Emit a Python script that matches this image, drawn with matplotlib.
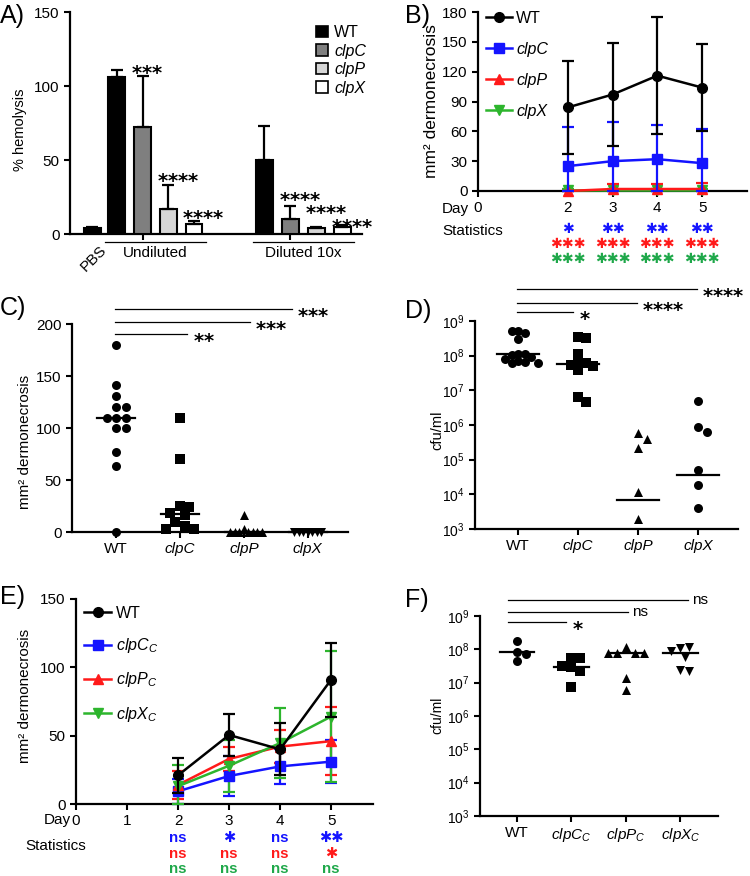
import numpy as np
import matplotlib
matplotlib.use('Agg')
import matplotlib.pyplot as plt
from matplotlib.patches import Patch
from matplotlib.lines import Line2D
import matplotlib.transforms as mtransforms

plt.rcParams['font.family'] = ['Liberation Sans', 'DejaVu Sans']
plt.rcParams['mathtext.fontset'] = 'custom'
plt.rcParams['mathtext.rm'] = 'Liberation Sans'
plt.rcParams['mathtext.it'] = 'Liberation Sans:italic'
plt.rcParams['mathtext.bf'] = 'Liberation Sans:bold'
plt.rcParams['mathtext.sf'] = 'DejaVu Sans:bold'

# ---------------- data ----------------
strains = ['WT', 'clpC', 'clpP', 'clpX']
strains_c = ['WT', r'$\mathit{clpC}_{\mathit{C}}$', r'$\mathit{clpP}_{\mathit{C}}$', r'$\mathit{clpX}_{\mathit{C}}$']

# A: % hemolysis
pbs_val, pbs_err = 4, 1
undiluted_vals = [106, 72, 17, 7]
undiluted_errs = [5, 35, 16, 2]
diluted_vals = [50, 10, 4, 5]
diluted_errs = [23, 9, 0.6, 0.8]
undiluted_stars = ['', '***', '****', '****']
diluted_stars = ['', '****', '****', '****']
undiluted_star_y = [0, 114, 41, 15.5]
diluted_star_y = [0, 28.0, 19.3, 9.6]

# B: dermonecrosis time course (mutants)
days = [2, 3, 4, 5]
B_WT_mean = [84, 97, 116, 104]
B_WT_err = [47, 52, 59, 44]
B_clpC_mean = [25, 30, 32, 28]
B_clpC_err = [39, 39, 34, 34]
B_clpP_mean = [0, 2, 2, 2]
B_clpP_err = [0, 5, 5, 6]
B_clpX_mean = [1, 1, 1, 1]
B_clpX_err = [1, 1, 1, 1]
B_stats_clpC = ['*', '**', '**', '**']
B_stats_clpP = ['***', '***', '***', '***']
B_stats_clpX = ['***', '***', '***', '***']

# C: dermonecrosis day 5 scatter
C_WT = [180, 141, 131, 120, 120, 110, 110, 110, 100, 100, 77, 63, 0]
C_clpC = [110, 70, 25, 24, 18, 16, 10, 6, 3, 3]
C_clpP = [16, 3, 0, 0, 0, 0, 0, 0, 0]
C_clpX = [0, 0, 0, 0, 0, 0, 0]
C_median = [110, 17, 0, 0]
C_sig_ends = [3.75, 3.09, 2.11]
C_sig_labels = ['***', '***', '**']

# D: cfu/ml mutants
D_WT = [5e8, 4.6e8, 3.1e8, 5e8, 1.15e8, 1.1e8, 1.05e8, 9e7, 8e7, 7e7, 6.5e7, 6e7, 6.2e7]
D_clpC = [3.5e8, 3.2e8, 1.1e8, 6.5e7, 6e7, 5.5e7, 5e7, 3.8e7, 6.3e6, 4.5e6]
D_clpP = [5.7e5, 3.9e5, 2.2e5, 1.15e4, 2e3]
D_clpX = [5e6, 8.5e5, 6.3e5, 5.2e4, 1.9e4, 4e3]
D_median = [1.1e8, 5.6e7, 6.9e3, 3.6e4]
D_sig_ends = [3.98, 2.98, 1.92]
D_sig_labels = ['****', '****', '*']

# E: dermonecrosis time course (complemented)
E_WT_mean = [21, 50.5, 40, 91]
E_WT_err = [13, 15.5, 19, 27]
E_clpC_mean = [9.3, 20.5, 27.5, 31]
E_clpC_err = [9.3, 14.5, 13, 15.5]
E_clpP_mean = [14, 33, 42, 46]
E_clpP_err = [10, 9, 12, 25]
E_clpX_mean = [13, 28, 44.6, 64]
E_clpX_err = [15.5, 19, 25.4, 48]
E_stats_clpC = ['ns', '*', 'ns', '**']
E_stats_clpP = ['ns', 'ns', 'ns', '*']
E_stats_clpX = ['ns', 'ns', 'ns', 'ns']

# F: cfu/ml complemented
F_WT = [1.8e8, 8.5e7, 7.2e7, 4.5e7]
F_clpC = [5.6e7, 5.6e7, 3e7, 3.2e7, 2.3e7, 7.2e6]
F_clpP = [1.15e8, 8e7, 7.8e7, 7.6e7, 7.5e7, 1.4e7, 6e6]
F_clpX = [1.1e8, 1.15e8, 9e7, 6e7, 2.4e7, 2.2e7]
F_median = [8.5e7, 2.9e7, 7.8e7, 7.8e7]
F_sig_ends = [4.14, 3.04, 1.9]
F_sig_labels = ['ns', 'ns', '*']

# ---------------- style ----------------
BLUE = '#1414ff'
RED = '#ff1a1a'
GREEN = '#2db52d'
GREEN_T = '#1fa84a'
line_colors = ['black', BLUE, RED, GREEN]
stat_colors = [BLUE, RED, GREEN_T]
markers = ['o', 's', '^', 'v']
bar_colors = ['black', '#7f7f7f', '#d6d6d6', 'white']

W, H = 750, 876
fig = plt.figure(figsize=(W / 100, H / 100), dpi=100)


def rect(l, t, r, b):
    return [l / W, 1 - b / H, (r - l) / W, (b - t) / H]


def style(ax, fs=11):
    for s in ['top', 'right']:
        ax.spines[s].set_visible(False)
    for s in ['left', 'bottom']:
        ax.spines[s].set_linewidth(1.6)
    ax.tick_params(width=1.5, length=4, labelsize=fs, direction='out')
    ax.minorticks_off()


def ftext(px, py, s, **kw):
    fig.text(px / W, 1 - py / H, s, **kw)


def stars(s):
    # bold asterisks rendered as math text (DejaVu Sans Bold)
    return r'$\mathsf{' + '{*}' * len(s) + '}$'


def heavy(s):
    # heavy asterisk glyphs for the stacked statistics rows
    return s.replace('*', '\u2731')


def swarm_x(ax, xc, vals, d):
    disp = ax.transData.transform(np.column_stack([np.full(len(vals), float(xc)), np.asarray(vals, float)]))
    x0 = disp[0, 0]
    placed = []
    cands = [0.0]
    for k in range(1, 20):
        cands += [k * d / 2, -k * d / 2]
    for y in disp[:, 1]:
        for c in cands:
            if all((x0 + c - px) ** 2 + (y - py) ** 2 >= (0.999 * d) ** 2 for px, py in placed):
                break
        placed.append((x0 + c, y))
    return ax.transData.inverted().transform(np.array(placed))[:, 0]


def sig_lines(ax, ends, ylevels, labels, x0, fs=14):
    tr = mtransforms.blended_transform_factory(ax.transData, ax.transAxes)
    for xe, yf, lab in zip(ends, ylevels, labels):
        ax.plot([x0, xe], [yf, yf], transform=tr, color='black', lw=0.9, clip_on=False)
        if lab == 'ns':
            off = mtransforms.offset_copy(tr, fig=fig, x=3, y=-0.27 * 11, units='points')
            ax.text(xe, yf, lab, transform=off, ha='left', va='baseline', fontsize=11)
        else:
            off = mtransforms.offset_copy(tr, fig=fig, x=4, y=-0.58 * fs, units='points')
            ax.text(xe, yf, stars(lab), transform=off, ha='left', va='baseline', fontsize=fs)


# ================= Panel A =================
axA = fig.add_axes(rect(70, 12, 362, 234))
style(axA)
axA.set_xlim(0, 11.23)
axA.set_ylim(0, 150)
axA.set_yticks([0, 50, 100, 150])
pos_pbs = 0.85
pos_und = 1.8 + np.arange(4) * 0.99
pos_dil = 7.47 + np.arange(4) * 1.0
bw = 0.65
kw = dict(width=bw, edgecolor='black', linewidth=1.5, zorder=3,
          error_kw=dict(elinewidth=1.6, capthick=1.6, ecolor='black'), capsize=4)
axA.bar([pos_pbs], [pbs_val], yerr=[[0], [pbs_err]], color='black', **kw)
axA.bar(pos_und, undiluted_vals, yerr=[np.zeros(4), undiluted_errs], color=bar_colors, **kw)
axA.bar(pos_dil, diluted_vals, yerr=[np.zeros(4), diluted_errs], color=bar_colors, **kw)
axA.set_xticks([pos_und[1], pos_dil[1]])
axA.set_xticklabels(['', ''])
offA = mtransforms.offset_copy(axA.transData, fig=fig, y=-0.58 * 14, units='points')
for p, s, y in zip(pos_und, undiluted_stars, undiluted_star_y):
    if s:
        axA.text(p - 0.45, y, stars(s), transform=offA, ha='left', va='baseline', fontsize=14)
for p, s, y in zip(pos_dil, diluted_stars, diluted_star_y):
    if s:
        axA.text(p - 0.45, y, stars(s), transform=offA, ha='left', va='baseline', fontsize=14)
trA = mtransforms.blended_transform_factory(axA.transData, axA.transAxes)
for grp, lab in [(pos_und, 'Undiluted'), (pos_dil, 'Diluted 10x')]:
    axA.plot([grp[0] - 0.45, grp[-1] + 0.45], [-0.036, -0.036], transform=trA, color='black',
             lw=0.9, clip_on=False)
    axA.text((grp[0] + grp[-1]) / 2, -0.055, lab, transform=trA, ha='center', va='top', fontsize=11)
axA.text(pos_pbs + 0.3, -0.04, 'PBS', transform=trA, rotation=45, ha='right', va='top',
         rotation_mode='anchor', fontsize=11)
legA = axA.legend([Patch(facecolor=c, edgecolor='black', linewidth=1.2) for c in bar_colors],
                  strains, loc='upper left', bbox_to_anchor=(316 / W, 1 - 25 / H),
                  bbox_transform=fig.transFigure, frameon=False, fontsize=11.5,
                  handlelength=0.75, handleheight=0.75, handletextpad=0.4, labelspacing=0.22,
                  borderpad=0, borderaxespad=0)
for t in legA.get_texts()[1:]:
    t.set_style('italic')
ftext(20, 130, '% hemolysis', rotation=90, ha='center', va='center', fontsize=10.5)
ftext(0, 16, 'A)', ha='left', va='center', fontsize=18)

# ================= Panel B =================
axB = fig.add_axes(rect(478, 12, 747, 191))
style(axB)
axB.set_xlim(0, 6.0)
axB.set_ylim(0, 180)
axB.set_yticks(np.arange(0, 181, 30))
axB.set_xticks([0, 2, 3, 4, 5])
B_means = [B_WT_mean, B_clpC_mean, B_clpP_mean, B_clpX_mean]
B_errs = [B_WT_err, B_clpC_err, B_clpP_err, B_clpX_err]
for i in [3, 2, 1, 0]:
    m = np.array(B_means[i], float)
    e = np.array(B_errs[i], float)
    axB.errorbar(days, m, yerr=[np.minimum(e, m), e], color=line_colors[i], lw=1.8,
                 elinewidth=1.6, capsize=4, capthick=1.6, marker=markers[i], ms=7,
                 zorder=3 + (3 - i), clip_on=False)
handlesB = [Line2D([], [], color=line_colors[i], lw=1.8, marker=markers[i], ms=7) for i in range(4)]
legB = axB.legend(handlesB, strains, loc='upper left', bbox_to_anchor=(486 / W, 1 - 11 / H),
                  bbox_transform=fig.transFigure, frameon=False, fontsize=11.5,
                  handlelength=1.6, handletextpad=0.3, labelspacing=1.0, borderpad=0,
                  borderaxespad=0)
for t in legB.get_texts()[1:]:
    t.set_style('italic')
ftext(432, 101, 'mm² dermonecrosis', rotation=90, ha='center', va='center', fontsize=12.5)
ftext(405, 16, 'B)', ha='left', va='center', fontsize=18)
ftext(442, 209, 'Day', ha='left', va='center', fontsize=11)
ftext(442, 231, 'Statistics', ha='left', va='center', fontsize=11)
trB = mtransforms.blended_transform_factory(axB.transData, fig.transFigure)
for labs, col, py in zip([B_stats_clpC, B_stats_clpP, B_stats_clpX], stat_colors, [229, 244, 259]):
    for d, s in zip(days, labs):
        axB.text(d, 1 - py / H, heavy(s), transform=trB, ha='center', va='center',
                 fontsize=10.2, color=col, family=['DejaVu Sans'])

# ================= Panel C =================
axC = fig.add_axes(rect(72, 324, 348, 532))
style(axC)
axC.set_xlim(0.31, 4.63)
axC.set_ylim(0, 200)
axC.set_yticks([0, 50, 100, 150, 200])
axC.set_xticks([1, 2, 3, 4])
axC.set_xticklabels(strains)
for t in axC.get_xticklabels()[1:]:
    t.set_style('italic')
C_data = [C_WT, C_clpC, C_clpP, C_clpX]
C_d = [9.5, 9.5, 4.5, 4.5]
for i, vals in enumerate(C_data):
    xs = swarm_x(axC, i + 1, vals, C_d[i])
    axC.scatter(xs, vals, marker=markers[i], s=42, color='black', clip_on=False, zorder=3,
                linewidths=0)
    axC.plot([i + 1 - 0.3, i + 1 + 0.3], [C_median[i]] * 2, color='black', lw=1.6, zorder=4,
             clip_on=False)
sig_lines(axC, C_sig_ends, [1.072, 1.0096, 0.952], C_sig_labels, 0.98)
ftext(25, 442, 'mm² dermonecrosis', rotation=90, ha='center', va='center', fontsize=11)
ftext(0, 308, 'C)', ha='left', va='center', fontsize=18)

# ================= Panel D =================
axD = fig.add_axes(rect(475, 321, 738, 529))
axD.set_yscale('log')
style(axD, fs=10)
axD.set_xlim(0.28, 4.67)
axD.set_ylim(1e3, 1e9)
axD.set_yticks([10.0 ** k for k in range(3, 10)])
axD.minorticks_off()
axD.set_xticks([1, 2, 3, 4])
axD.set_xticklabels(strains)
axD.tick_params(axis='x', labelsize=11)
for t in axD.get_xticklabels()[1:]:
    t.set_style('italic')
D_data = [D_WT, D_clpC, D_clpP, D_clpX]
D_d = [6.5, 7.5, 9.5, 9.5]
for i, vals in enumerate(D_data):
    xs = swarm_x(axD, i + 1, vals, D_d[i])
    axD.scatter(xs, vals, marker=markers[i] if i != 3 else 'o', s=42, color='black',
                clip_on=False, zorder=3, linewidths=0)
    axD.plot([i + 1 - 0.35, i + 1 + 0.35], [D_median[i]] * 2, color='black', lw=1.6, zorder=4)
sig_lines(axD, D_sig_ends, [1.154, 1.087, 1.043], D_sig_labels, 0.98)
ftext(437, 430, 'cfu/ml', rotation=90, ha='center', va='center', fontsize=10.5)
ftext(405, 311, 'D)', ha='left', va='center', fontsize=18)

# ================= Panel E =================
axE = fig.add_axes(rect(76, 599, 373, 804))
style(axE)
axE.set_xlim(0, 5.82)
axE.set_ylim(0, 150)
axE.set_yticks([0, 50, 100, 150])
axE.set_xticks([0, 1, 2, 3, 4, 5])
E_means = [E_WT_mean, E_clpC_mean, E_clpP_mean, E_clpX_mean]
E_errs = [E_WT_err, E_clpC_err, E_clpP_err, E_clpX_err]
for i in [1, 2, 3, 0]:
    m = np.array(E_means[i], float)
    e = np.array(E_errs[i], float)
    axE.errorbar(days, m, yerr=[np.minimum(e, m), e], color=line_colors[i], lw=1.8,
                 elinewidth=1.6, capsize=4, capthick=1.6, marker=markers[i], ms=7,
                 zorder=3 + (i == 0), clip_on=False)
handlesE = [Line2D([], [], color=line_colors[i], lw=1.8, marker=markers[i], ms=7) for i in range(4)]
legE = axE.legend(handlesE, strains_c, loc='upper left', bbox_to_anchor=(84 / W, 1 - 606 / H),
                  bbox_transform=fig.transFigure, frameon=False, fontsize=11.5,
                  handlelength=1.7, handletextpad=0.3, labelspacing=0.95, borderpad=0,
                  borderaxespad=0)
ftext(25, 696, 'mm² dermonecrosis', rotation=90, ha='center', va='center', fontsize=11)
ftext(0, 597, 'E)', ha='left', va='center', fontsize=18)
ftext(71, 820, 'Day', ha='right', va='center', fontsize=11)
ftext(25, 846, 'Statistics', ha='left', va='center', fontsize=11)
trE = mtransforms.blended_transform_factory(axE.transData, fig.transFigure)
for labs, col, py in zip([E_stats_clpC, E_stats_clpP, E_stats_clpX], stat_colors, [838, 853.5, 869]):
    for d, s in zip(days, labs):
        if s == 'ns':
            axE.text(d, 1 - py / H, s, transform=trE, ha='center', va='center',
                     fontsize=10.8, color=col, fontweight='bold')
        else:
            axE.text(d, 1 - py / H, heavy(s), transform=trE, ha='center', va='center',
                     fontsize=10.5, color=col, family=['DejaVu Sans'])

# ================= Panel F =================
axF = fig.add_axes(rect(480, 616, 718, 816))
axF.set_yscale('log')
style(axF, fs=10)
axF.set_xlim(0.32, 4.69)
axF.set_ylim(1e3, 1e9)
axF.set_yticks([10.0 ** k for k in range(3, 10)])
axF.minorticks_off()
axF.set_xticks([1, 2, 3, 4])
axF.set_xticklabels(strains_c)
axF.tick_params(axis='x', labelsize=11)
F_data = [F_WT, F_clpC, F_clpP, F_clpX]
for i, vals in enumerate(F_data):
    xs = swarm_x(axF, i + 1, vals, 9.0)
    axF.scatter(xs, vals, marker=markers[i], s=42, color='black', clip_on=False, zorder=3,
                linewidths=0)
    axF.plot([i + 1 - 0.32, i + 1 + 0.32], [F_median[i]] * 2, color='black', lw=1.6, zorder=4)
sig_lines(axF, F_sig_ends, [1.08, 1.02, 0.97], F_sig_labels, 0.83)
ftext(437, 715, 'cfu/ml', rotation=90, ha='center', va='center', fontsize=10)
ftext(405, 600, 'F)', ha='left', va='center', fontsize=18)

fig.savefig('out.png', dpi=100)
